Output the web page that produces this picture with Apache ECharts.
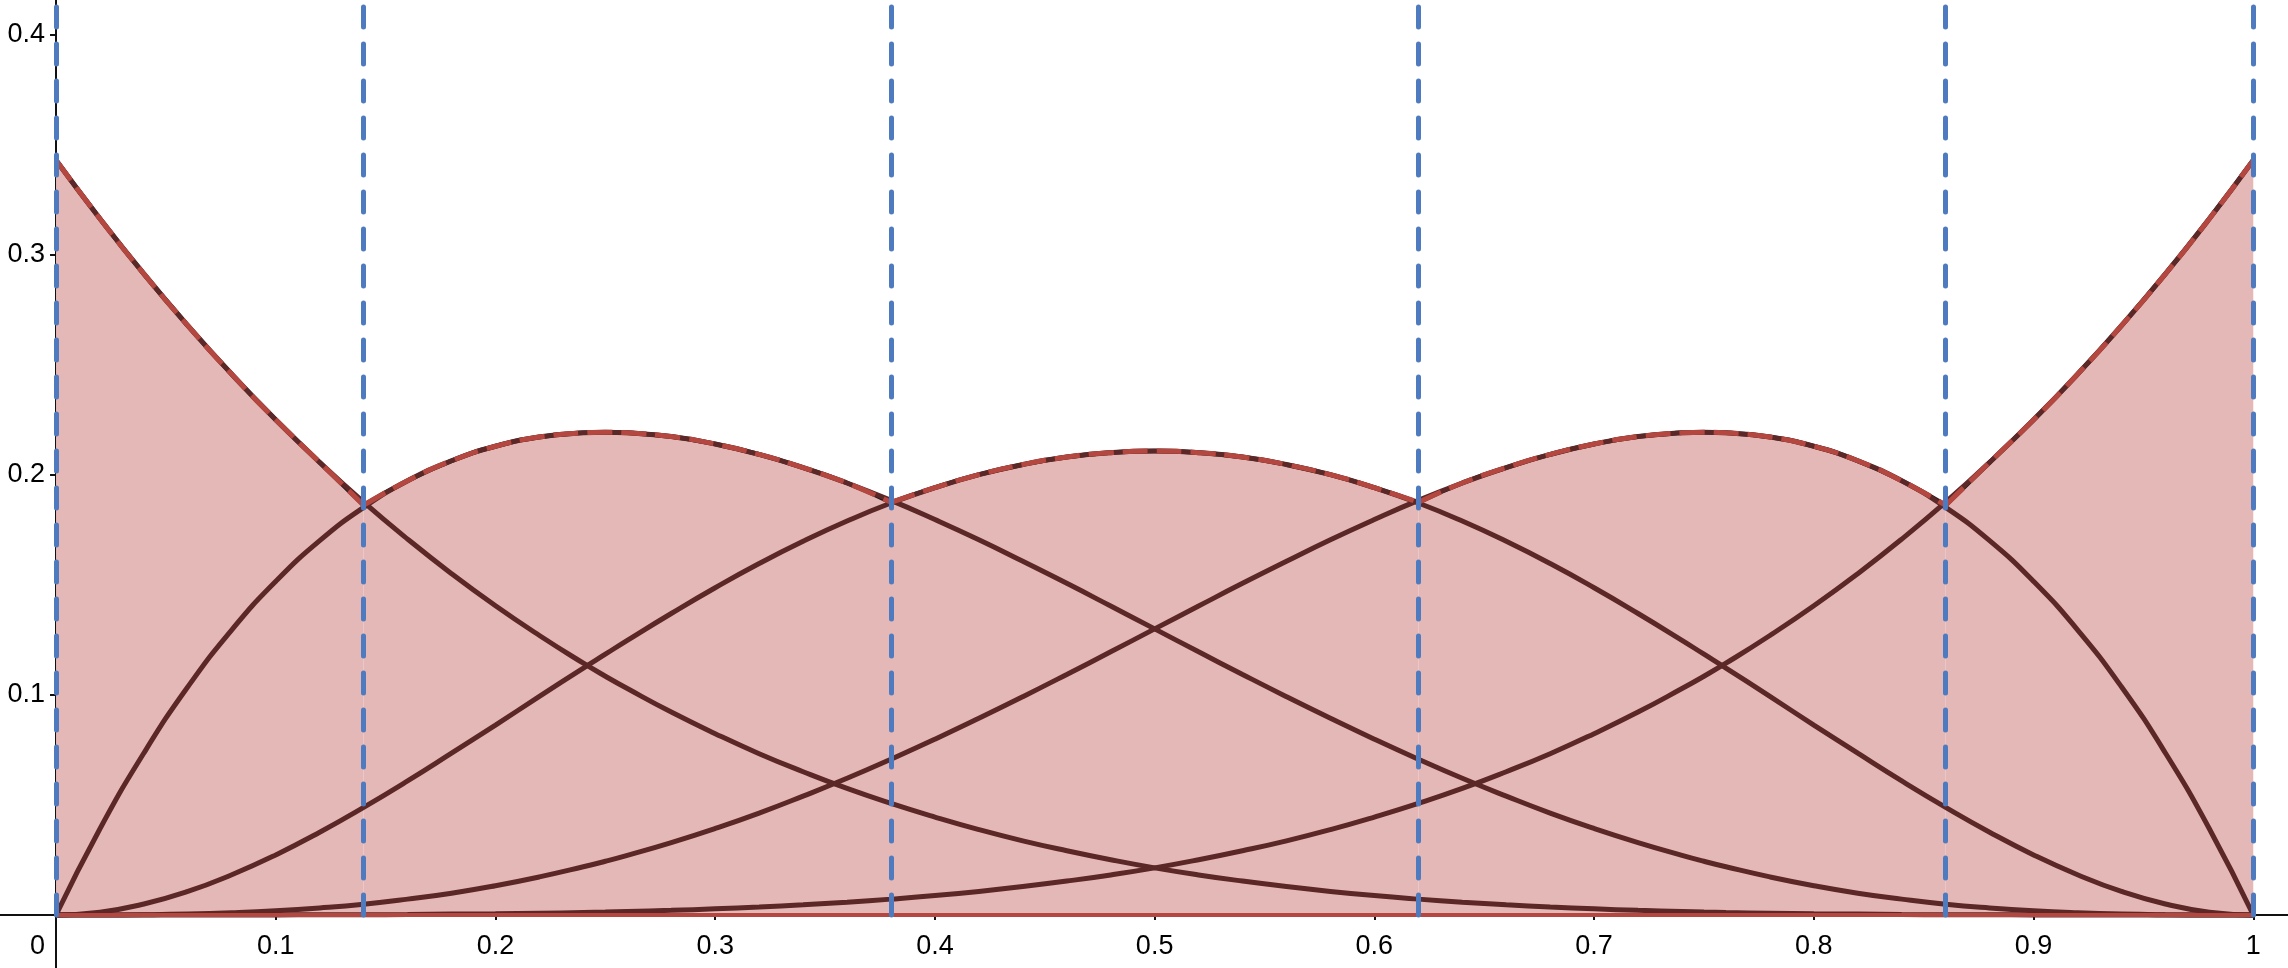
<!DOCTYPE html>
<html>
<head>
<meta charset="utf-8">
<script src="https://cdn.jsdelivr.net/npm/echarts@6/dist/echarts.min.js"></script>
<style>
  html, body { margin: 0; padding: 0; background: #fff; }
  #chart { width: 2288px; height: 968px; }
</style>
</head>
<body>
<div id="chart"></div>
<script>
// sample positions along x
const xs = [0, 0.02, 0.04, 0.06, 0.08, 0.1, 0.12, 0.14, 0.16, 0.18, 0.2, 0.22, 0.24, 0.25, 0.26, 0.28, 0.3,
  0.32, 0.34, 0.36, 0.38, 0.4, 0.42, 0.44, 0.46, 0.48, 0.5, 0.52, 0.54, 0.56, 0.58, 0.6, 0.62, 0.64,
  0.66, 0.68, 0.7, 0.72, 0.74, 0.75, 0.76, 0.78, 0.8, 0.82, 0.84, 0.86, 0.88, 0.9, 0.92, 0.94, 0.96, 0.98, 1];

const curve0 = [0.3430, 0.3164, 0.2913, 0.2678, 0.2457, 0.2250, 0.2057, 0.1876, 0.1708, 0.1551, 0.1405,
  0.1270, 0.1144, 0.1085, 0.1029, 0.0922, 0.0824, 0.0733, 0.0651, 0.0575, 0.0507, 0.0445, 0.0388, 0.0337, 0.0292,
  0.0251, 0.0214, 0.0182, 0.0154, 0.0129, 0.0107, 0.0088, 0.0072, 0.0058, 0.0046, 0.0036, 0.0028, 0.0021,
  0.0016, 0.0013, 0.0011, 0.0008, 0.0005, 0.0004, 0.0002, 0.0001, 0.0001, 0, 0, 0, 0, 0, 0];
const curve1 = [0, 0.0392, 0.0736, 0.1037, 0.1296, 0.1516, 0.1701, 0.1852, 0.1973, 0.2064, 0.2130, 0.2172,
  0.2191, 0.2194, 0.2191, 0.2174, 0.2140, 0.2093, 0.2033, 0.1963, 0.1884, 0.1797, 0.1705, 0.1607, 0.1507, 0.1404,
  0.1300, 0.1196, 0.1093, 0.0992, 0.0894, 0.0799, 0.0708, 0.0621, 0.0540, 0.0463, 0.0393, 0.0329, 0.0271,
  0.0244, 0.0219, 0.0173, 0.0133, 0.0099, 0.0072, 0.0049, 0.0032, 0.0019, 0.0010, 0.0004, 0.0001, 0, 0];
const curve2 = [0, 0.0013, 0.0050, 0.0107, 0.0183, 0.0273, 0.0376, 0.0489, 0.0609, 0.0735, 0.0863, 0.0993,
  0.1122, 0.1185, 0.1248, 0.1370, 0.1487, 0.1597, 0.1698, 0.1790, 0.1872, 0.1942, 0.2001, 0.2047, 0.2081, 0.2101,
  0.2108, 0.2101, 0.2081, 0.2047, 0.2001, 0.1942, 0.1872, 0.1790, 0.1698, 0.1597, 0.1487, 0.1370, 0.1248,
  0.1185, 0.1122, 0.0993, 0.0863, 0.0735, 0.0609, 0.0489, 0.0376, 0.0273, 0.0183, 0.0107, 0.0050, 0.0013, 0];
const curve3 = [0, 0, 0.0001, 0.0004, 0.0010, 0.0019, 0.0032, 0.0049, 0.0072, 0.0099, 0.0133, 0.0173,
  0.0219, 0.0244, 0.0271, 0.0329, 0.0393, 0.0463, 0.0540, 0.0621, 0.0708, 0.0799, 0.0894, 0.0992, 0.1093, 0.1196,
  0.1300, 0.1404, 0.1507, 0.1607, 0.1705, 0.1797, 0.1884, 0.1963, 0.2033, 0.2093, 0.2140, 0.2174, 0.2191,
  0.2194, 0.2191, 0.2172, 0.2130, 0.2064, 0.1973, 0.1852, 0.1701, 0.1516, 0.1296, 0.1037, 0.0736, 0.0392, 0];
const curve4 = [0, 0, 0, 0, 0, 0, 0.0001, 0.0001, 0.0002, 0.0004, 0.0005, 0.0008, 0.0011, 0.0013, 0.0016, 0.0021,
  0.0028, 0.0036, 0.0046, 0.0058, 0.0072, 0.0088, 0.0107, 0.0129, 0.0154, 0.0182, 0.0214, 0.0251, 0.0292,
  0.0337, 0.0388, 0.0445, 0.0507, 0.0575, 0.0651, 0.0733, 0.0824, 0.0922, 0.1029, 0.1085, 0.1144, 0.1270, 0.1405,
  0.1551, 0.1708, 0.1876, 0.2057, 0.2250, 0.2457, 0.2678, 0.2913, 0.3164, 0.3430];

// where the upper envelope switches from one curve to the next (dashed verticals)
const knotX = [0, 0.14, 0.38, 0.62, 0.86, 1];
const knotY = [0.343, 0.1862, 0.1875, 0.1875, 0.1862, 0.343];

const xLabels = [0, 0.1, 0.2, 0.3, 0.4, 0.5, 0.6, 0.7, 0.8, 0.9, 1];
const yLabels = [0.1, 0.2, 0.3, 0.4];

const curves = [curve0, curve1, curve2, curve3, curve4];

const FONT = 'Liberation Sans, Arial, sans-serif';
const FILL = '#e4b8b6';
const RED = '#b4473f';
const DARK = '#5b2727';
const BLUE = '#4e7bbf';

const X_MIN = -0.0255, X_MAX = 1.0158;
const Y_MIN = -0.0241, Y_MAX = 0.4158;

const chart = echarts.init(document.getElementById('chart'));

let series = [];

// envelope pieces: fill + black line under a red dashed line
for (let i = 0; i < curves.length; i++) {
  let pts = [[knotX[i], knotY[i]]];
  xs.forEach(function (x, j) {
    if (x > knotX[i] && x < knotX[i + 1]) pts.push([x, curves[i][j]]);
  });
  pts.push([knotX[i + 1], knotY[i + 1]]);

  series.push({
    type: 'line', data: pts, smooth: true, showSymbol: false, silent: true, z: 1,
    lineStyle: { color: '#1a1a1a', width: 4.5 },
    areaStyle: { color: FILL, opacity: 1 }
  });
  series.push({
    type: 'line', data: pts, smooth: true, showSymbol: false, silent: true, z: 4,
    lineStyle: { color: RED, width: 5, type: [25, 9] }
  });
}

// the individual curves
curves.forEach(function (c) {
  series.push({
    type: 'line', data: xs.map(function (x, j) { return [x, c[j]]; }),
    smooth: true, showSymbol: false, silent: true, z: 3,
    lineStyle: { color: DARK, width: 5 }
  });
});

// bottom edge of the filled region + dashed verticals
series.push({
  type: 'line', data: [[knotX[0], 0], [knotX[knotX.length - 1], 0]],
  showSymbol: false, silent: true, z: 5,
  lineStyle: { color: RED, width: 4 },
  markLine: {
    silent: true, symbol: 'none', z: 6,
    label: { show: false },
    lineStyle: { color: BLUE, width: 5, type: [20, 17], cap: 'round' },
    data: knotX.map(function (k) {
      return [{ coord: [k, 0] }, { coord: [k, Y_MAX] }];
    })
  }
});

const labelStyle = { color: '#000', fontSize: 27, fontFamily: FONT };

const option = {
  animation: false,
  backgroundColor: '#fff',
  grid: [
    // plotting area covers the whole canvas
    { left: 0, right: 0, top: 0, bottom: 0, outerBoundsMode: 'none' },
    // label grid: its lower-left corner sits on the origin
    { left: 56, right: 0, top: 0, bottom: 53, outerBoundsMode: 'none' }
  ],
  xAxis: [
    {
      type: 'value', min: X_MIN, max: X_MAX, gridIndex: 0,
      splitLine: { show: false },
      axisLine: { onZero: true, lineStyle: { color: '#111', width: 2 } },
      axisTick: { show: true, length: 5, lineStyle: { color: '#111', width: 2 }, customValues: xLabels.slice(1) },
      axisLabel: { show: false }
    },
    {
      type: 'value', min: 0, max: X_MAX, gridIndex: 1,
      splitLine: { show: false }, axisLine: { show: false }, axisTick: { show: false },
      axisLabel: Object.assign({
        customValues: xLabels, margin: 18, showMinLabel: true, showMaxLabel: true,
        formatter: function (v) { return v === 0 ? '{o|0}' : String(v); },
        rich: { o: Object.assign({ padding: [0, 37, 0, 0] }, labelStyle) }
      }, labelStyle)
    }
  ],
  yAxis: [
    {
      type: 'value', min: Y_MIN, max: Y_MAX, gridIndex: 0,
      splitLine: { show: false },
      axisLine: { onZero: true, lineStyle: { color: '#111', width: 2 } },
      axisTick: { show: true, length: 6, lineStyle: { color: '#111', width: 2 }, customValues: yLabels },
      axisLabel: { show: false }
    },
    {
      type: 'value', min: 0, max: Y_MAX, gridIndex: 1,
      splitLine: { show: false }, axisLine: { show: false }, axisTick: { show: false },
      axisLabel: Object.assign({ customValues: yLabels, margin: 11 }, labelStyle)
    }
  ],
  series: series
};

chart.setOption(option);
</script>
</body>
</html>
